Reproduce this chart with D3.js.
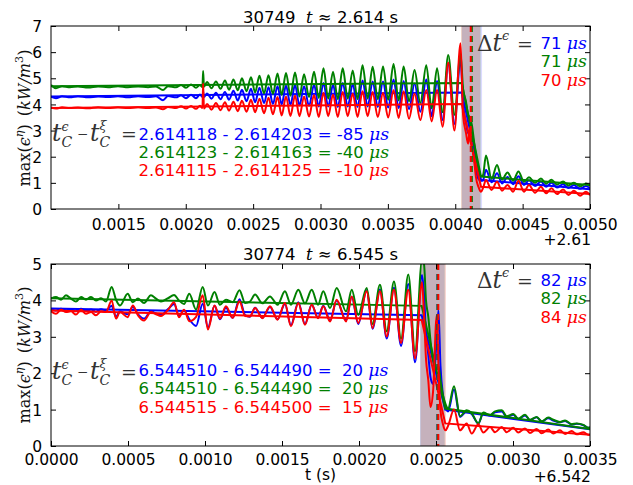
<!DOCTYPE html>
<html><head><meta charset="utf-8">
<script src="https://cdn.jsdelivr.net/npm/d3@7"></script>
<style>
body{margin:0;background:#fff}
svg{display:block}
text{white-space:pre}
</style></head><body>
<script>
// ---------- DATA ----------
const seriesNames = ["blue", "green", "red"];
const seriesColors = ["#0000ff", "#008000", "#ff0000"];

// Panel 1 (shot 30749), time relative to +2.61 s
const topTitle = ["30749", "2.614"];
const topOffset = "+2.61";
const topXTicks = [0.0015, 0.0020, 0.0025, 0.0030, 0.0035, 0.0040, 0.0045, 0.0050];
const topYTicks = [0, 1, 2, 3, 4, 5, 6, 7];
const topT = [0.001000,0.001037,0.001082,0.001141,0.001200,0.001275,0.001349,0.001423,0.001497,0.001571,0.001646,0.001720,0.001779,0.001831,0.001868,0.001928,0.001965,0.002002,0.002039,0.002076,0.002106,0.002124,0.002129,0.002135,
0.002158,0.002191,0.002224,0.002258,0.002291,0.002321,0.002354,0.002386,0.002417,0.002451,0.002484,0.002515,0.002547,0.002581,0.002614,0.002647,0.002681,0.002712,0.002744,0.002777,0.002811,0.002844,0.002878,0.002915,0.002952,0.002987,0.003022,0.003057,0.003093,0.003128,0.003165,0.003202,0.003239,0.003275,0.003312,0.003350,0.003387,0.003425,0.003464,0.003502,0.003542,0.003580,0.003617,0.003657,0.003698,0.003741,0.003785,0.003825,0.003865,0.003906,0.003948,0.003994,0.004039,
0.004058,0.004080,0.004095,0.004109,0.004124,0.004139,0.004154,0.004172,0.004191,
0.004206,0.004228,0.004269,0.004310,0.004347,0.004388,0.004429,0.004469,0.004510,0.004547,0.004592,0.004636,0.004674,0.004714,0.004755,0.004800,0.004840,0.004881,0.004926,0.004970,0.005000];
const topBlue = [4.30,4.24,4.31,4.27,4.31,4.27,4.30,4.28,4.31,4.27,4.31,4.28,4.31,4.16,4.32,4.27,4.35,4.24,4.37,4.24,4.38,4.28,4.50,4.28,
4.42,4.22,4.45,4.20,4.48,4.18,4.52,4.15,4.56,4.12,4.60,4.08,4.64,4.05,4.66,4.02,4.70,4.00,4.72,3.98,4.74,3.96,4.70,3.94,4.75,3.92,4.82,3.92,4.75,3.90,4.82,3.92,4.78,3.90,4.92,3.92,4.88,3.90,4.88,3.88,4.95,3.85,4.90,3.82,4.80,3.72,4.95,3.55,4.90,3.40,5.55,3.25,5.70,
4.00,3.30,2.90,3.00,2.60,2.00,1.50,1.15,1.08,
1.10,1.50,1.02,1.37,0.98,1.22,0.95,1.25,0.92,1.10,0.88,1.05,0.85,1.00,0.82,0.95,0.80,0.92,0.77,0.88,0.78];
const topGreen = [4.74,4.62,4.70,4.66,4.69,4.65,4.69,4.66,4.70,4.66,4.69,4.66,4.69,4.55,4.70,4.66,4.74,4.64,4.76,4.64,4.74,4.66,5.28,4.68,
4.86,4.62,4.88,4.60,4.92,4.56,4.95,4.54,5.00,4.50,5.04,4.46,5.10,4.42,5.12,4.40,5.18,4.36,5.20,4.33,5.22,4.30,5.15,4.28,5.25,4.25,5.38,4.22,5.25,4.20,5.38,4.22,5.30,4.20,5.50,4.22,5.44,4.20,5.45,4.18,5.55,4.15,5.45,4.12,5.32,4.05,5.50,3.85,5.38,3.70,5.89,3.60,5.95,
4.60,4.10,3.60,3.50,3.20,2.60,2.00,1.55,1.25,
1.30,2.05,1.15,1.68,1.12,1.40,1.08,1.43,1.04,1.21,1.00,1.17,0.97,1.12,0.94,1.05,0.90,1.00,0.87,0.98,0.88];
const topRed = [3.88,3.84,3.89,3.86,3.88,3.85,3.89,3.86,3.89,3.86,3.89,3.86,3.88,3.82,3.90,3.86,3.93,3.84,3.94,3.83,3.95,3.86,4.80,3.84,
4.02,3.80,4.05,3.78,4.08,3.76,4.10,3.74,4.14,3.72,4.18,3.70,4.22,3.66,4.26,3.62,4.28,3.58,4.30,3.56,4.34,3.55,4.30,3.54,4.36,3.52,4.45,3.55,4.38,3.52,4.48,3.55,4.42,3.52,4.50,3.55,4.48,3.52,4.45,3.50,4.55,3.48,4.50,3.45,4.42,3.40,4.55,3.35,4.55,3.15,5.60,3.00,6.34,
3.60,2.90,2.50,3.10,2.40,1.90,1.20,0.85,0.66,
0.80,1.11,0.73,1.04,0.70,0.92,0.66,1.08,0.66,0.92,0.62,0.85,0.60,0.79,0.57,0.75,0.54,0.70,0.51,0.66,0.53];
const topFitT = [0.001000, 0.004048, 0.004191, 0.005000];
const topFitBlue = [4.30, 4.46, 1.11, 0.76];
const topFitGreen = [4.70, 4.82, 1.24, 0.92];
const topFitRed = [3.86, 4.02, 0.85, 0.57];
const topSpans = [[0.004050, 0.004199], [0.004045, 0.004190], [0.004043, 0.004185]];
const topCrash = [0.004118, 0.004123, 0.004115];
const topTimes = ["2.614118 - 2.614203 = -85 ", "2.614123 - 2.614163 = -40 ", "2.614115 - 2.614125 = -10 "];
const topDt = ["71 ", "71 ", "70 "];

// Panel 2 (shot 30774), time relative to +6.542 s
const botTitle = ["30774", "6.545"];
const botOffset = "+6.542";
const botXTicks = [0.0000, 0.0005, 0.0010, 0.0015, 0.0020, 0.0025, 0.0030, 0.0035];
const botYTicks = [0, 1, 2, 3, 4, 5];
const botT = [0.000000,0.000032,0.000065,0.000097,0.000130,0.000162,0.000195,0.000227,0.000260,0.000292,0.000325,0.000357,0.000394,0.000422,0.000448,0.000498,0.000531,0.000565,0.000604,0.000649,0.000682,0.000714,0.000760,0.000799,0.000831,0.000864,0.000898,0.000942,0.000985,0.001019,0.001062,0.001097,0.001136,0.001180,0.001224,0.001260,
0.001292,0.001325,0.001373,0.001422,0.001471,0.001519,0.001558,0.001606,0.001649,0.001693,0.001734,0.001768,0.001812,0.001855,0.001916,0.001953,0.001995,0.002050,0.002088,0.002136,0.002180,0.002227,0.002273,0.002320,0.002364,0.002409,
0.002422,0.002435,0.002450,0.002464,0.002481,0.002505,0.002516,0.002529,0.002545,0.002562,0.002578,
0.002617,0.002656,0.002699,0.002732,0.002775,0.002807,0.002851,0.002883,0.002927,0.002959,0.003002,0.003034,0.003078,0.003110,0.003154,0.003186,0.003229,0.003262,0.003305,0.003338,0.003381,0.003414,0.003457,0.003489,0.003500];
const botBlue = [3.75,3.72,3.77,3.73,3.76,3.70,3.77,3.71,3.75,3.69,3.76,3.72,3.85,3.55,3.70,3.62,3.82,3.62,3.50,3.70,3.64,3.60,3.76,3.90,3.58,3.72,3.48,3.30,3.91,3.25,3.85,3.48,3.80,3.52,4.03,3.60,
3.55,3.80,3.52,3.82,3.48,3.90,3.32,3.95,3.35,3.88,3.52,3.85,3.45,4.00,3.45,4.10,3.35,4.28,3.22,4.30,2.95,4.35,2.75,4.45,2.30,4.70,
4.20,3.10,2.50,1.90,1.70,3.00,3.73,2.20,1.40,1.05,0.95,
1.55,0.80,0.95,0.88,0.62,0.90,0.84,0.93,0.95,0.80,0.86,0.74,0.84,0.71,0.79,0.67,0.76,0.70,0.65,0.69,0.59,0.61,0.57,0.50,0.51];
const botGreen = [4.05,4.09,4.02,4.14,4.05,3.97,4.09,4.02,4.09,4.00,4.06,3.97,4.37,4.02,3.86,4.18,3.95,4.05,3.93,4.14,4.05,3.97,4.06,4.15,4.00,3.90,4.18,3.75,4.37,3.86,4.23,3.88,4.02,3.95,4.28,3.93,
3.97,4.16,3.92,4.11,3.88,4.25,3.88,4.29,3.92,4.29,3.88,4.25,3.79,4.34,3.70,4.29,3.60,4.34,3.35,4.43,3.15,4.52,2.95,4.71,2.60,5.10,
5.00,4.00,3.55,2.90,2.36,2.10,2.20,1.80,1.40,1.15,1.03,
1.64,0.82,0.98,0.90,0.62,0.92,0.85,0.95,0.98,0.82,0.88,0.75,0.86,0.72,0.80,0.68,0.78,0.72,0.66,0.70,0.60,0.62,0.58,0.50,0.52];
const botRed = [3.70,3.63,3.74,3.68,3.70,3.61,3.74,3.63,3.68,3.59,3.70,3.68,4.00,3.50,3.68,3.54,3.86,3.59,3.45,3.68,3.62,3.57,3.74,3.95,3.54,3.74,3.43,3.55,4.14,3.20,3.86,3.50,3.84,3.52,3.98,3.57,
3.56,3.79,3.51,3.84,3.47,3.93,3.29,3.93,3.33,3.88,3.51,3.84,3.42,4.02,3.42,4.11,3.38,4.25,3.24,4.25,3.01,4.29,2.83,4.29,2.41,4.50,
3.60,2.40,1.80,1.07,1.50,3.60,2.20,0.98,0.60,0.43,0.55,
1.00,0.43,0.62,0.34,0.60,0.37,0.52,0.38,0.52,0.38,0.50,0.37,0.48,0.36,0.47,0.35,0.45,0.34,0.43,0.33,0.41,0.32,0.38,0.31,0.32];
const botFitT = [0.000000, 0.002407, 0.002560, 0.003500];
const botFitBlue = [3.78, 3.59, 1.00, 0.46];
const botFitGreen = [4.06, 3.85, 1.03, 0.47];
const botFitRed = [3.72, 3.46, 0.62, 0.31];
const botSpans = [[0.002396, 0.002555], [0.002398, 0.002560], [0.002400, 0.002565]];
const botCrash = [0.002510, 0.002510, 0.002515];
const botTimes = ["6.544510 - 6.544490 =  20 ", "6.544510 - 6.544490 =  20 ", "6.544515 - 6.544500 =  15 "];
const botDt = ["82 ", "82 ", "84 "];

// ---------- DRAWING ----------
const W = 633, H = 485;
const SANS = '"DejaVu Sans", sans-serif';
const SERIF = '"DejaVu Serif", "Liberation Serif", serif';
const EPS = "\u03f5";
const svg = d3.select("body").append("svg").attr("width", W).attr("height", H);
svg.append("rect").attr("width", W).attr("height", H).attr("fill", "#fff");

// rich text: parts {t, f:'sans'|'it'|'rm', sc, dy, stack, dx, ax}
function buildMath(g, parts, size, fill) {
  let cx = 0, lastW = 0;
  parts.forEach(p => {
    const fs = size * (p.sc || 1);
    const el = g.append("text").attr("y", (p.dy || 0) * size)
      .style("font-family", p.f === "sans" ? SANS : SERIF)
      .style("font-style", p.f === "it" ? "italic" : "normal")
      .style("font-size", fs + "px")
      .attr("fill", p.fill || fill).text(p.t);
    const w = el.node().getComputedTextLength();
    if (p.stack) {
      el.attr("x", cx - lastW);
      cx = cx - lastW + Math.max(w, lastW);
    } else {
      if (p.ax !== undefined) cx = p.ax;
      cx += (p.dx || 0);
      el.attr("x", cx);
      lastW = w;
      cx += w;
    }
  });
  return cx;
}
function mathText(parent, x, y, parts, size, fill, anchor, target) {
  const g = parent.append("g");
  let w = buildMath(g, parts, size, fill);
  if (target) {
    g.selectAll("*").remove();
    w = buildMath(g, parts, size * target / w, fill);
  }
  const ox = anchor === "end" ? x - w : anchor === "middle" ? x - w / 2 : x;
  g.attr("transform", `translate(${ox},${y})`);
  return g;
}

function panel(cfg) {
  const x0 = 51, x1 = 590, y0 = cfg.y0, y1 = cfg.y1;
  const x = d3.scaleLinear().domain(cfg.xDomain).range([x0, x1]);
  const y = d3.scaleLinear().domain([0, cfg.yMax]).range([y1, y0]);
  const g = svg.append("g");
  const cid = "clip" + cfg.id;
  svg.append("clipPath").attr("id", cid).append("rect")
    .attr("x", x0).attr("y", y0).attr("width", x1 - x0).attr("height", y1 - y0);
  const pg = g.append("g").attr("clip-path", `url(#${cid})`);

  cfg.spans.forEach((s, i) => {
    pg.append("rect").attr("x", x(s[0])).attr("y", y0)
      .attr("width", x(s[1]) - x(s[0])).attr("height", y1 - y0)
      .attr("fill", seriesColors[i]).attr("fill-opacity", 0.14);
  });

  const line = d3.line().x(d => x(d[0])).y(d => y(d[1])).curve(d3.curveMonotoneX);
  const fline = d3.line().x(d => x(d[0])).y(d => y(d[1]));
  cfg.vals.forEach((vals, i) => {
    pg.append("path").datum(cfg.t.map((t, k) => [t, vals[k]]))
      .attr("d", line).attr("fill", "none").attr("stroke", seriesColors[i])
      .attr("stroke-width", 2).attr("stroke-linejoin", "round");
    pg.append("path").datum(cfg.fitT.map((t, k) => [t, cfg.fits[i][k]]))
      .attr("d", fline).attr("fill", "none").attr("stroke", seriesColors[i])
      .attr("stroke-width", 2);
  });
  cfg.crash.forEach((c, i) => {
    pg.append("line").attr("x1", x(c)).attr("x2", x(c)).attr("y1", y0).attr("y2", y1)
      .attr("stroke", seriesColors[i]).attr("stroke-width", 2).attr("stroke-dasharray", "6,4");
  });

  g.append("rect").attr("x", x0).attr("y", y0).attr("width", x1 - x0).attr("height", y1 - y0)
    .attr("fill", "none").attr("stroke", "#000").attr("stroke-width", 1);

  const tl = 5;
  const bx = d3.axisBottom(x).tickValues(cfg.xTicks).tickSize(-tl).tickPadding(9)
    .tickFormat(d => d3.format(".4f")(d));
  const gx = g.append("g").attr("transform", `translate(0,${y1})`).call(bx);
  const tx = d3.axisTop(x).tickValues(cfg.xTicks).tickSize(-tl).tickFormat("");
  const gtx = g.append("g").attr("transform", `translate(0,${y0})`).call(tx);
  const ly = d3.axisLeft(y).tickValues(cfg.yTicks).tickSize(-tl).tickPadding(9).tickFormat(d3.format("d"));
  const gy = g.append("g").attr("transform", `translate(${x0},0)`).call(ly);
  const ry = d3.axisRight(y).tickValues(cfg.yTicks).tickSize(-tl).tickFormat("");
  const gry = g.append("g").attr("transform", `translate(${x1},0)`).call(ry);
  [gx, gtx, gy, gry].forEach(a => {
    a.select(".domain").remove();
    a.selectAll("line").attr("stroke", "#000").attr("stroke-width", 1);
    a.selectAll("text").style("font-family", SANS).style("font-size", "15.5px").attr("fill", "#000");
  });
  gx.selectAll("text").attr("dy", null).attr("y", 0).attr("transform", `translate(0,${cfg.xLabY - y1})`);
  gy.selectAll("text").attr("dy", "0.36em");

  g.append("text").attr("x", 591).attr("y", cfg.offY).attr("text-anchor", "end")
    .style("font-family", SANS).style("font-size", "15.5px").text(cfg.offset);

  // title
  mathText(g, 320.5, cfg.titleY, [
    {t: cfg.title[0] + "  ", f: "sans"}, {t: "t", f: "it"}, {t: " \u2248 ", f: "rm"},
    {t: cfg.title[1] + " s", f: "sans"}], 16.5, "#000", "middle");

  // y label, fitted to the reference length
  const yl = g.append("g").attr("transform", `translate(30,${cfg.yLabC}) rotate(-90)`);
  mathText(yl, 0, 0, [
    {t: "max(", f: "rm"}, {t: EPS, f: "it"}, {t: "\u03b7", f: "it", sc: 0.7, dy: -0.42},
    {t: ")", f: "rm"}, {t: " (", f: "rm", dx: 3}, {t: "kW/m", f: "it"}, {t: "3", f: "rm", sc: 0.7, dy: -0.42},
    {t: ")", f: "rm"}], 16, "#111", "middle", 137);

  // left annotation t_C^eps - t_C^xi =
  mathText(g, 52, cfg.annY, [
    {t: "t", f: "it", sc: 1.3}, {t: "C", f: "it", sc: 0.78, dy: 0.32}, {t: EPS, f: "it", sc: 0.7, dy: -0.55, stack: true},
    {t: "\u2212", f: "rm", sc: 0.75, dy: -0.12, ax: 25},
    {t: "t", f: "it", sc: 1.3, ax: 38}, {t: "C", f: "it", sc: 0.78, dy: 0.32}, {t: "\u03be", f: "it", sc: 0.7, dy: -0.6, stack: true},
    {t: "=", f: "rm", sc: 1.05, ax: 69}], 18, "#333", "start");
  cfg.times.forEach((s, i) => {
    mathText(g, 138.5, cfg.rowY0 + i * 18.4, [{t: s, f: "sans"}, {t: "\u03bcs", f: "it", sc: 1.05}],
      16.5, seriesColors[i], "start");
  });
  // right annotation Δt^ε =
  mathText(g, 477, cfg.dtY, [
    {t: "\u0394", f: "rm", sc: 1.2}, {t: "t", f: "it", sc: 1.3}, {t: EPS, f: "it", sc: 0.7, dy: -0.6},
    {t: "=", f: "rm", sc: 1.05, ax: 40}], 18, "#333", "start");
  cfg.dts.forEach((s, i) => {
    mathText(g, 587, cfg.dtRowY0 + i * 18.4, [{t: s, f: "sans"}, {t: "\u03bcs", f: "it", sc: 1.05}],
      16.5, seriesColors[i], "end");
  });
}

panel({id: 1, y0: 26, y1: 209, xDomain: [0.001, 0.005], yMax: 7,
  xTicks: topXTicks, yTicks: topYTicks, t: topT, vals: [topBlue, topGreen, topRed],
  fitT: topFitT, fits: [topFitBlue, topFitGreen, topFitRed], spans: topSpans, crash: topCrash,
  xLabY: 229.5, offY: 245, offset: topOffset, titleY: 23, title: topTitle, yLabC: 118,
  annY: 141, times: topTimes, rowY0: 139.5, dtY: 51, dts: topDt, dtRowY0: 49});
panel({id: 2, y0: 264, y1: 446, xDomain: [0, 0.0035], yMax: 5,
  xTicks: botXTicks, yTicks: botYTicks, t: botT, vals: [botBlue, botGreen, botRed],
  fitT: botFitT, fits: [botFitBlue, botFitGreen, botFitRed], spans: botSpans, crash: botCrash,
  xLabY: 465, offY: 482, offset: botOffset, titleY: 260, title: botTitle, yLabC: 355,
  annY: 379, times: botTimes, rowY0: 376, dtY: 288, dts: botDt, dtRowY0: 286});

svg.append("text").attr("x", 320.5).attr("y", 480).attr("text-anchor", "middle")
  .style("font-family", SANS).style("font-size", "15.5px").text("t (s)");
</script>
</body></html>
